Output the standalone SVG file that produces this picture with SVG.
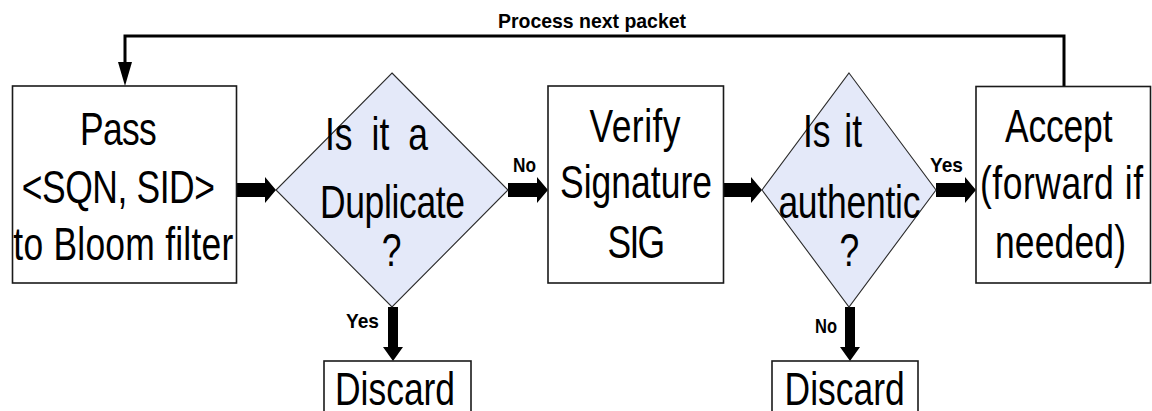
<svg xmlns="http://www.w3.org/2000/svg" width="1152" height="411" viewBox="0 0 1152 411">
  <style>
    .box { fill: #ffffff; stroke: #1a1a1a; stroke-width: 1.6; }
    .decision { fill: #e4e9f9; stroke: #2a2a2a; stroke-width: 1.1; }
    /* node captions: tall, condensed sans (glyphs squeezed horizontally) */
    .big { font-family: "Liberation Sans", Arial, sans-serif; font-size: 46px; fill: #000; }
    .lbl { font-family: "Liberation Sans", Arial, sans-serif; font-size: 21px; font-weight: bold; fill: #000; }
    .flow { fill: #000; }
    .loop { fill: none; stroke: #000; stroke-width: 3; }
  </style>

  <rect width="1152" height="411" fill="#ffffff"/>

  <!-- connectors -->
  <g id="connectors">
    <path class="loop" d="M1064,86 V36 H125 V62"/>
    <polygon class="flow" points="118,62 132,62 125,86"/>
    <text class="lbl" x="498" y="28" font-size="22" textLength="188" lengthAdjust="spacingAndGlyphs">Process next packet</text>

    <!-- box 1 to first decision -->
    <polygon class="flow" points="237,183 265,183 265,177 276,190 265,203 265,197 237,197"/>
    <!-- first decision "No" to verify -->
    <polygon class="flow" points="508,183 537,183 537,177 548,190 537,203 537,197 508,197"/>
    <text class="lbl" x="513" y="172" textLength="23" lengthAdjust="spacingAndGlyphs">No</text>
    <!-- verify to second decision -->
    <polygon class="flow" points="724,183 751,183 751,177 762,190 751,203 751,197 724,197"/>
    <!-- second decision "Yes" to accept -->
    <polygon class="flow" points="936,183 965,183 965,177 976,190 965,203 965,197 936,197"/>
    <text class="lbl" x="930" y="172" textLength="33" lengthAdjust="spacingAndGlyphs">Yes</text>
    <!-- first decision "Yes" to discard -->
    <polygon class="flow" points="388,307 398,307 398,347 403,347 393,361 383,347 388,347"/>
    <text class="lbl" x="346" y="328" textLength="33" lengthAdjust="spacingAndGlyphs">Yes</text>
    <!-- second decision "No" to discard -->
    <polygon class="flow" points="845,307 855,307 855,347 860,347 850,361 840,347 845,347"/>
    <text class="lbl" x="815" y="333" textLength="22" lengthAdjust="spacingAndGlyphs">No</text>
  </g>

  <g id="pass-to-bloom">
    <rect class="box" x="12.5" y="86" width="224" height="197"/>
    <g transform="scale(0.77 1)">
      <text class="big" x="103.9" y="145" textLength="99.6" lengthAdjust="spacing">Pass</text>
      <text class="big" x="28.2" y="203" textLength="251" lengthAdjust="spacing">&lt;SQN, SID&gt;</text>
      <text class="big" x="17.3" y="260" textLength="285.7" lengthAdjust="spacing">to Bloom filter</text>
    </g>
  </g>

  <g id="is-duplicate">
    <polygon class="decision" points="392,73 508,190 392,307 276,190"/>
    <g transform="scale(0.77 1)">
      <text class="big" x="422" y="150" word-spacing="12">Is it a</text>
      <text class="big" x="415.6" y="218" textLength="188.3" lengthAdjust="spacing">Duplicate</text>
      <text class="big" x="495.7" y="266.5">?</text>
    </g>
  </g>

  <g id="verify-signature">
    <rect class="box" x="548" y="86" width="175.5" height="197"/>
    <g transform="scale(0.77 1)">
      <text class="big" x="765.6" y="142" textLength="118.2" lengthAdjust="spacing">Verify</text>
      <text class="big" x="727.3" y="198" textLength="197.4" lengthAdjust="spacing">Signature</text>
      <text class="big" x="789" y="258" textLength="74.7" lengthAdjust="spacing">SIG</text>
    </g>
  </g>

  <g id="is-authentic">
    <polygon class="decision" points="849,73 936,190 849,307 762,190"/>
    <g transform="scale(0.77 1)">
      <text class="big" x="1042.9" y="147" word-spacing="5">Is it</text>
      <text class="big" x="1010.9" y="218" textLength="184.4" lengthAdjust="spacing">authentic</text>
      <text class="big" x="1090.3" y="266.5">?</text>
    </g>
  </g>

  <g id="accept">
    <rect class="box" x="976" y="86.5" width="174.5" height="196.5"/>
    <g transform="scale(0.77 1)">
      <text class="big" x="1305.2" y="142" textLength="139.6" lengthAdjust="spacing">Accept</text>
      <text class="big" x="1272.7" y="199" textLength="211.7" lengthAdjust="spacing">(forward if</text>
      <text class="big" x="1292.2" y="258" textLength="170.1" lengthAdjust="spacing">needed)</text>
    </g>
  </g>

  <g id="discard-duplicate">
    <rect class="box" x="324" y="361" width="147" height="70"/>
    <text class="big" transform="scale(0.77 1)" x="435.1" y="405">Discard</text>
  </g>

  <g id="discard-unauthentic">
    <rect class="box" x="772" y="361" width="146" height="70"/>
    <text class="big" transform="scale(0.77 1)" x="1019" y="405">Discard</text>
  </g>
</svg>
